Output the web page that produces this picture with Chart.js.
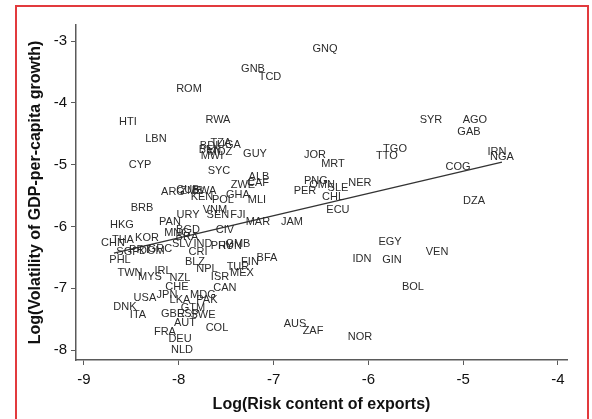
<!DOCTYPE html>
<html>
<head>
<meta charset="utf-8">
<script src="https://cdn.jsdelivr.net/npm/chart.js@4/dist/chart.umd.min.js"></script>
<style>
  html, body { margin: 0; padding: 0; background: #fff; }
  #wrap { position: relative; width: 592px; height: 419px; overflow: hidden; }
  #frame {
    position: absolute; left: 15px; top: 5px; width: 570px; height: 430px;
    border: 2px solid #e23a3d; border-bottom: none; pointer-events: none;
  }
  canvas { position: absolute; left: 0; top: 0; }
</style>
</head>
<body>
<div id="wrap">
  <canvas id="chart" width="592" height="419"></canvas>
  <div id="frame"></div>
</div>
<script>
// Country codes with log risk content of exports (x) and log GDP-per-capita volatility (y)
const codes = [
  "GNQ","GNB","TCD","ROM","HTI","RWA","LBN","BDI","TZA","UGA","BEN","MWI","MOZ","GUY",
  "CYP","SYC","ALB","CAF","ZWE","GHA","MLI","POL","KEN","ARG","ZMB","BWA","CUB",
  "JOR","MRT","SYR","AGO","GAB","TGO","TTO","IRN","NGA","COG","PNG","OMN","PER","SLE",
  "NER","CHL","ECU","DZA","JAM","EGY","VEN","IDN","GIN","BOL","AUS","ZAF","NOR",
  "MAR","FJI","SEN","VNM","BRB","URY","HKG","PAN","BGD","MNG","BRA","CIV","CHN","THA",
  "KOR","SLV","IND","GMB","PRY","HUN","SGP","PRT","DOM","GRC","CRI","PHL","BLZ","NPL",
  "TUR","FIN","BFA","ISR","MEX","TWN","MYS","IRL","NZL","CHE","CAN","USA","JPN","LKA",
  "MDG","PAK","DNK","ITA","GBR","GTM","ESP","SWE","AUT","COL","FRA","DEU","NLD"
];
const riskX = [
  -6.458,-7.217,-7.038,-7.892,-8.536,-7.587,-8.241,-7.681,-7.555,-7.470,-7.671,-7.650,-7.565,-7.196,
  -8.409,-7.576,-7.154,-7.165,-7.323,-7.376,-7.175,-7.534,-7.755,-8.061,-7.861,-7.734,-7.903,
  -6.563,-6.373,-5.340,-4.876,-4.939,-5.719,-5.804,-4.643,-4.591,-5.055,-6.553,-6.489,-6.669,-6.321,
  -6.089,-6.373,-6.321,-4.886,-6.806,-5.772,-5.276,-6.068,-5.751,-5.530,-6.774,-6.584,-6.089,
  -7.165,-7.376,-7.587,-7.618,-8.388,-7.903,-8.599,-8.093,-7.903,-8.019,-7.914,-7.513,-8.694,-8.589,
  -8.335,-7.966,-7.745,-7.376,-7.544,-7.460,-8.536,-8.409,-8.283,-8.198,-7.797,-8.620,-7.829,-7.703,
  -7.376,-7.249,-7.070,-7.565,-7.333,-8.515,-8.304,-8.167,-7.987,-8.019,-7.513,-8.357,-8.124,-7.987,
  -7.745,-7.703,-8.568,-8.430,-8.061,-7.850,-7.903,-7.745,-7.935,-7.597,-8.146,-7.987,-7.966
];
const volY = [
  -3.129,-3.453,-3.583,-3.777,-4.311,-4.278,-4.586,-4.699,-4.650,-4.683,-4.764,-4.861,-4.796,-4.828,
  -5.006,-5.104,-5.201,-5.298,-5.330,-5.492,-5.573,-5.573,-5.524,-5.443,-5.427,-5.427,-5.411,
  -4.845,-4.990,-4.278,-4.278,-4.472,-4.748,-4.861,-4.796,-4.877,-5.039,-5.265,-5.330,-5.427,-5.379,
  -5.298,-5.524,-5.735,-5.589,-5.929,-6.252,-6.414,-6.528,-6.544,-6.981,-7.579,-7.693,-7.790,
  -5.929,-5.816,-5.816,-5.735,-5.702,-5.816,-5.977,-5.929,-6.058,-6.107,-6.172,-6.058,-6.269,-6.220,
  -6.188,-6.285,-6.285,-6.285,-6.317,-6.317,-6.414,-6.382,-6.398,-6.366,-6.414,-6.544,-6.576,-6.689,
  -6.657,-6.576,-6.511,-6.819,-6.754,-6.754,-6.819,-6.722,-6.835,-6.981,-6.997,-7.159,-7.110,-7.191,
  -7.110,-7.191,-7.304,-7.434,-7.417,-7.320,-7.417,-7.434,-7.563,-7.644,-7.709,-7.822,-8.000
];
// Fitted regression line end points
const fitX = [-8.684, -4.591];
const fitY = [-6.430, -4.958];
// Axis ticks
const xTicks = [-9, -8, -7, -6, -5, -4];
const yTicks = [-8, -7, -6, -5, -4, -3];

const points = codes.map((c, i) => ({ x: riskX[i], y: volY[i] }));
const fitLine = fitX.map((x, i) => ({ x: x, y: fitY[i] }));

// Draws each country code centred on its point
const codeLabels = {
  id: 'codeLabels',
  afterDatasetsDraw(chart) {
    const meta = chart.getDatasetMeta(1);
    const ctx = chart.ctx;
    ctx.save();
    ctx.font = '11px "Liberation Sans", Arial, sans-serif';
    ctx.fillStyle = '#2b2b2b';
    ctx.textAlign = 'center';
    ctx.textBaseline = 'middle';
    meta.data.forEach((el, i) => {
      ctx.fillText(codes[i], el.x, el.y);
    });
    ctx.restore();
  }
};

const axisColor = '#5a5a5a';
const tickFont = { family: '"Liberation Sans", Arial, sans-serif', size: 15 };
const titleFont = { family: '"Liberation Sans", Arial, sans-serif', size: 16, weight: 'bold' };

new Chart(document.getElementById('chart'), {
  type: 'scatter',
  data: {
    datasets: [
      {
        type: 'line',
        data: fitLine,
        borderColor: '#333',
        borderWidth: 1.4,
        pointRadius: 0,
        fill: false
      },
      {
        data: points,
        pointRadius: 0,
        pointHoverRadius: 0,
        backgroundColor: 'rgba(0,0,0,0)',
        borderColor: 'rgba(0,0,0,0)'
      }
    ]
  },
  options: {
    responsive: false,
    animation: false,
    devicePixelRatio: 1,
    layout: { padding: { left: 0, right: 25, top: 25, bottom: 0 } },
    plugins: { legend: { display: false }, tooltip: { enabled: false } },
    events: [],
    scales: {
      x: {
        type: 'linear',
        min: -9.084,
        max: -3.905,
        afterBuildTicks: (s) => { s.ticks = xTicks.map(v => ({ value: v })); },
        afterFit: (s) => { s.height = 59; },
        border: { display: true, color: axisColor, width: 1.5 },
        grid: { display: true, drawOnChartArea: false, drawTicks: true, tickLength: 5, color: axisColor, lineWidth: 1 },
        ticks: { color: '#111', font: tickFont, padding: 6, maxRotation: 0, autoSkip: false, callback: (v) => String(v) },
        title: { display: true, text: 'Log(Risk content of exports)', color: '#111', font: titleFont, padding: { top: 0, bottom: 5 } }
      },
      y: {
        type: 'linear',
        min: -8.16,
        max: -2.74,
        afterBuildTicks: (s) => { s.ticks = yTicks.map(v => ({ value: v })); },
        afterFit: (s) => { s.width = 76; },
        border: { display: true, color: axisColor, width: 1.5 },
        grid: { display: true, drawOnChartArea: false, drawTicks: true, tickLength: 5, color: axisColor, lineWidth: 1 },
        ticks: { color: '#111', font: tickFont, padding: 4, autoSkip: false, callback: (v) => String(v) },
        title: { display: true, text: 'Log(Volatility of GDP-per-capita growth)', color: '#111', font: titleFont, padding: { top: 26, bottom: 0 } }
      }
    }
  },
  plugins: [codeLabels]
});
</script>
</body>
</html>
